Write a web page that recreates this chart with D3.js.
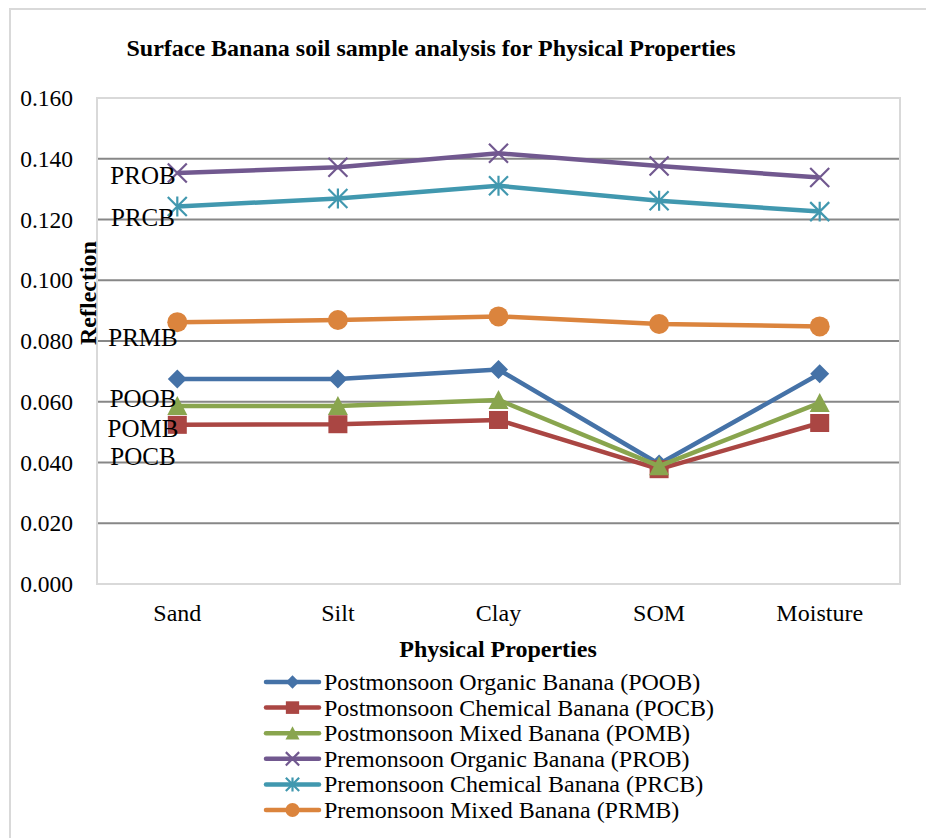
<!DOCTYPE html>
<html><head><meta charset="utf-8">
<script src="https://cdn.jsdelivr.net/npm/d3@7"></script>
<style>html,body{margin:0;padding:0;background:#fff}svg{display:block}</style>
</head><body>
<script>
const categories = ["Sand","Silt","Clay","SOM","Moisture"];
const POOB = [0.0675,0.0675,0.0706,0.0395,0.0692];
const POCB = [0.0524,0.0526,0.0540,0.0378,0.0530];
const POMB = [0.0586,0.0586,0.0606,0.0388,0.0596];
const PROB = [0.1353,0.1372,0.1418,0.1376,0.1338];
const PRCB = [0.1243,0.1269,0.1311,0.1262,0.1226];
const PRMB = [0.0862,0.0869,0.0881,0.0856,0.0848];
const seriesNames = ["Postmonsoon Organic Banana (POOB)","Postmonsoon Chemical Banana (POCB)","Postmonsoon Mixed Banana (POMB)","Premonsoon Organic Banana (PROB)","Premonsoon Chemical Banana (PRCB)","Premonsoon Mixed Banana (PRMB)"];
const seriesCodes = ["POOB","POCB","POMB","PROB","PRCB","PRMB"];
const seriesValues = [POOB,POCB,POMB,PROB,PRCB,PRMB];
const yTicks = [0,0.02,0.04,0.06,0.08,0.10,0.12,0.14,0.16];
const labelCodes = ["PROB","PRCB","PRMB","POOB","POMB","POCB"];
const labelValues = [0.1345,0.1207,0.0812,0.0613,0.0512,0.0420];

const colors = ["#4572A7","#AA4643","#89A54E","#71588F","#4198AF","#DB843D"];
const markers = ["diamond","square","triangle","x","asterisk","circle"];

const W=926,H=838;
const svg=d3.select("body").append("svg").attr("width",W).attr("height",H)
  .style("font-family","'Liberation Serif','Times New Roman',serif");

svg.append("rect").attr("x",10).attr("y",9).attr("width",W).attr("height",H)
  .attr("fill","none").attr("stroke","#d9d9d9").attr("stroke-width",2);

const L=97,R=900,T=98,B=584;
const x=d3.scaleBand().domain(categories).range([L,R]);
const y=d3.scaleLinear().domain([0,0.16]).range([B,T]);

svg.append("g").selectAll("line").data(yTicks.filter(t=>t>0&&t<0.16)).join("line")
  .attr("x1",L).attr("x2",R).attr("y1",d=>y(d)).attr("y2",d=>y(d))
  .attr("stroke","#878787").attr("stroke-width",2);
svg.append("rect").attr("x",L).attr("y",T).attr("width",R-L).attr("height",B-T)
  .attr("fill","none").attr("stroke","#d9d9d9").attr("stroke-width",2);

const yAxis=svg.append("g").attr("transform",`translate(${L},0)`)
  .call(d3.axisLeft(y).tickValues(yTicks).tickFormat(d3.format(".3f")).tickSize(0).tickPadding(24));
yAxis.select(".domain").remove();
yAxis.selectAll("text").attr("font-size",23.5).attr("font-family","'Liberation Serif',serif").attr("fill","#000").attr("dy","0.32em");

const xAxis=svg.append("g").attr("transform",`translate(0,${B})`)
  .call(d3.axisBottom(x).tickSize(0).tickPadding(20));
xAxis.select(".domain").remove();
xAxis.selectAll("text").attr("font-size",24).attr("font-family","'Liberation Serif',serif").attr("fill","#000");

svg.append("text").attr("x",431).attr("y",56).attr("text-anchor","middle")
  .attr("font-size",24).attr("font-weight","bold").text("Surface Banana soil sample analysis for Physical Properties");
svg.append("text").attr("x",498).attr("y",657).attr("text-anchor","middle")
  .attr("font-size",24).attr("font-weight","bold").text("Physical Properties");
svg.append("text").attr("transform","translate(96,293) rotate(-90)").attr("text-anchor","middle")
  .attr("font-size",24).attr("font-weight","bold").text("Reflection");

function drawMarker(g,type,cx,cy,color,scale){
  const s=scale||1;
  if(type==="diamond"){
    g.append("path").attr("d",`M${cx},${cy-9.5*s}L${cx+9.5*s},${cy}L${cx},${cy+9.5*s}L${cx-9.5*s},${cy}Z`).attr("fill",color);
  } else if(type==="square"){
    g.append("rect").attr("x",cx-9.5*s).attr("y",cy-9*s).attr("width",19*s).attr("height",18*s).attr("fill",color);
  } else if(type==="triangle"){
    g.append("path").attr("d",`M${cx},${cy-10*s}L${cx+10*s},${cy+9*s}L${cx-10*s},${cy+9*s}Z`).attr("fill",color);
  } else if(type==="circle"){
    g.append("circle").attr("cx",cx).attr("cy",cy).attr("r",10*s).attr("fill",color);
  } else if(type==="x"){
    const r=9.5*s;
    g.append("path").attr("d",`M${cx-r},${cy-r}L${cx+r},${cy+r}M${cx-r},${cy+r}L${cx+r},${cy-r}`).attr("stroke",color).attr("stroke-width",2.2).attr("fill","none");
  } else if(type==="asterisk"){
    const r=9.5*s;
    g.append("path").attr("d",`M${cx-r},${cy-r}L${cx+r},${cy+r}M${cx-r},${cy+r}L${cx+r},${cy-r}M${cx},${cy-r*1.05}L${cx},${cy+r*1.05}`).attr("stroke",color).attr("stroke-width",2.2).attr("fill","none");
  }
}

const cx=d=>x(d)+x.bandwidth()/2;
const line=d3.line().x((v,i)=>cx(categories[i])).y(v=>y(v));
seriesValues.forEach((vals,si)=>{
  const g=svg.append("g");
  g.append("path").datum(vals).attr("d",line).attr("fill","none")
    .attr("stroke",colors[si]).attr("stroke-width",4.5).attr("stroke-linejoin","round");
  vals.forEach((v,i)=>drawMarker(g,markers[si],cx(categories[i]),y(v),colors[si]));
});

svg.append("g").selectAll("text").data(labelCodes).join("text")
  .attr("x",143).attr("y",(d,i)=>y(labelValues[i])).attr("dy","0.35em").attr("text-anchor","middle")
  .attr("font-size",25).attr("fill","#000").text(d=>d);

const lg=svg.append("g");
seriesNames.forEach((n,i)=>{
  const yy=682+i*25.6;
  lg.append("line").attr("x1",266).attr("x2",319).attr("y1",yy).attr("y2",yy)
    .attr("stroke",colors[i]).attr("stroke-width",4.5).attr("stroke-linecap","round");
  drawMarker(lg,markers[i],292.5,yy,colors[i],0.7);
  lg.append("text").attr("x",324).attr("y",yy).attr("dy","0.33em").attr("font-size",24).text(n);
});
</script>
</body></html>
